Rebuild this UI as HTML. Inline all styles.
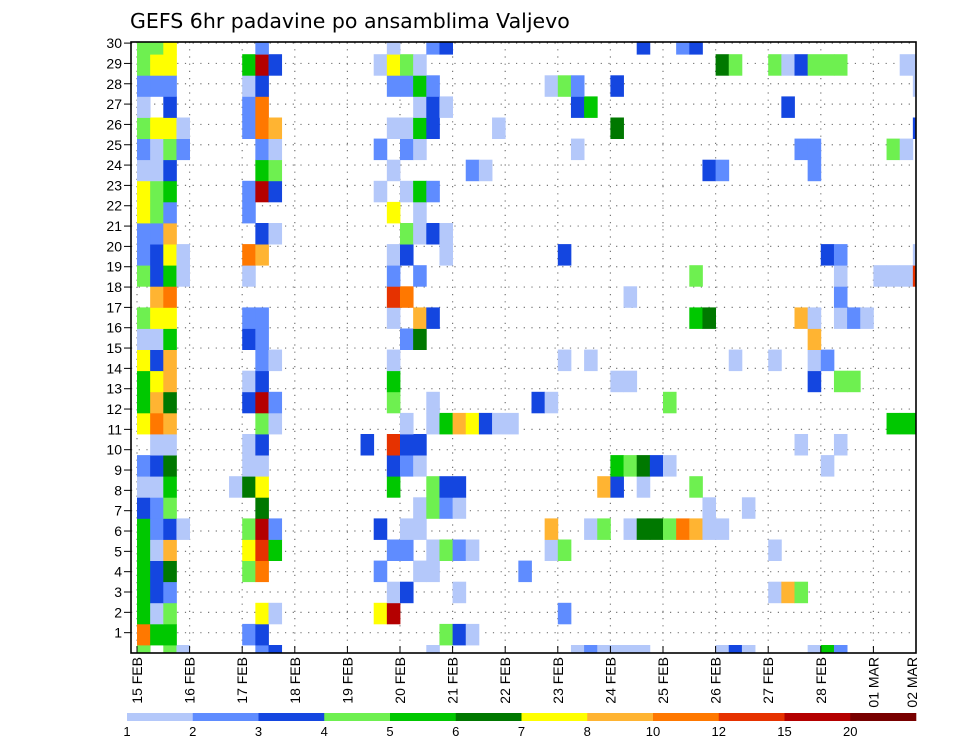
<!DOCTYPE html>
<html><head><meta charset="utf-8">
<style>
html,body{margin:0;padding:0;background:#fff;}
svg{display:block;font-family:"Liberation Sans","DejaVu Sans",sans-serif;}
</style></head>
<body>
<svg id="chart" width="960" height="742" viewBox="0 0 960 742" xmlns="http://www.w3.org/2000/svg">
<text x="130" y="28" font-size="20.5" fill="#000" style="font-family:'DejaVu Sans',sans-serif">GEFS 6hr padavine po ansamblima Valjevo</text>
<g id="grid"></g>
<g id="cells"></g>
<g id="axes"></g>
<g id="legend"></g>
</svg>
<script>
// ---- data ----
const levelColors = ["#ffffff","#b4c8fa","#5f8cff","#1446e0","#6ef050","#00c800","#007800","#ffff00","#ffb432","#ff7800","#e63200","#b40000","#780000"];
const legendLabels = ["1","2","3","4","5","6","7","8","10","12","15","20"];
const dayLabels = ["15 FEB","16 FEB","17 FEB","18 FEB","19 FEB","20 FEB","21 FEB","22 FEB","23 FEB","24 FEB","25 FEB","26 FEB","27 FEB","28 FEB","01 MAR","02 MAR"];
const memberLabels = [1,2,3,4,5,6,7,8,9,10,11,12,13,14,15,16,17,18,19,20,21,22,23,24,25,26,27,28,29,30];
// each member row: list of [6h step, colour level]
const memberRows = [
 [[0,4],[2,4],[3,1],[9,2],[10,3],[22,1],[33,1],[34,2],[35,1],[36,1],[37,1],[38,1],[44,1],[45,3],[46,1],[51,1],[52,5],[53,2]],
 [[0,9],[1,5],[2,5],[8,2],[9,3],[23,4],[24,3],[25,1]],
 [[0,5],[1,1],[2,4],[9,7],[10,1],[18,7],[19,11],[32,2]],
 [[0,5],[1,3],[2,2],[19,1],[20,3],[24,1],[48,1],[49,8],[50,4]],
 [[0,5],[1,3],[2,6],[8,4],[9,9],[18,2],[21,1],[22,1],[29,2]],
 [[0,5],[1,1],[2,8],[8,7],[9,10],[10,5],[19,2],[20,2],[22,1],[23,4],[24,2],[25,1],[31,1],[32,4],[48,1]],
 [[0,5],[1,2],[2,3],[3,1],[8,4],[9,11],[10,2],[18,3],[20,1],[21,1],[31,8],[34,1],[35,4],[37,1],[38,6],[39,6],[40,4],[41,9],[42,8],[43,1],[44,1]],
 [[0,3],[1,2],[2,4],[9,6],[21,1],[22,4],[23,2],[24,1],[43,1],[46,1]],
 [[0,1],[1,1],[2,5],[7,1],[8,6],[9,7],[19,5],[22,4],[23,3],[24,3],[35,8],[36,3],[38,1],[42,4]],
 [[0,2],[1,3],[2,6],[8,1],[9,1],[19,3],[20,2],[21,1],[36,5],[37,4],[38,6],[39,3],[40,1],[52,1]],
 [[1,1],[2,1],[8,1],[9,3],[17,3],[19,10],[20,3],[21,3],[50,1],[53,1]],
 [[0,7],[1,9],[2,8],[9,4],[10,1],[20,1],[22,1],[23,5],[24,8],[25,7],[26,3],[27,1],[28,1],[57,5],[58,5],[59,5]],
 [[0,5],[1,8],[2,6],[8,3],[9,11],[10,2],[19,4],[22,1],[30,3],[31,1],[40,4]],
 [[0,5],[1,7],[2,8],[8,1],[9,3],[19,5],[36,1],[37,1],[51,3],[53,4],[54,4]],
 [[0,7],[1,3],[2,8],[9,2],[10,1],[19,1],[32,1],[34,1],[45,1],[48,1],[51,1],[52,2]],
 [[0,1],[1,1],[2,5],[8,3],[9,2],[20,2],[21,6],[51,8]],
 [[0,4],[1,7],[2,7],[8,2],[9,2],[19,1],[21,8],[22,3],[42,5],[43,6],[50,8],[51,1],[53,1],[54,2],[55,1]],
 [[1,8],[2,9],[19,10],[20,9],[37,1],[53,2]],
 [[0,4],[1,3],[2,5],[3,1],[8,1],[19,2],[21,2],[42,4],[53,1],[56,1],[57,1],[58,1],[59,10]],
 [[0,2],[1,3],[2,7],[3,1],[8,9],[9,8],[19,1],[20,3],[23,1],[32,3],[52,3],[53,2],[59,1]],
 [[0,2],[1,2],[2,8],[9,3],[10,1],[20,4],[21,1],[22,3],[23,1]],
 [[0,7],[1,4],[2,2],[8,2],[19,7],[21,1]],
 [[0,7],[1,4],[2,5],[8,2],[9,11],[10,3],[18,1],[20,1],[21,5],[22,2]],
 [[0,1],[1,1],[2,3],[9,5],[10,4],[19,1],[25,2],[26,1],[43,3],[44,2],[51,2]],
 [[0,2],[1,1],[2,4],[3,2],[9,2],[10,1],[18,2],[20,2],[21,1],[33,1],[50,2],[51,2],[57,4],[58,1]],
 [[0,4],[1,7],[2,7],[3,1],[8,2],[9,9],[10,8],[19,1],[20,1],[21,5],[22,3],[27,1],[36,6],[59,3]],
 [[0,1],[2,3],[8,2],[9,9],[21,1],[22,3],[23,1],[33,3],[34,5],[49,3]],
 [[0,2],[1,2],[2,2],[8,1],[9,3],[19,2],[20,2],[21,5],[22,2],[31,1],[32,4],[33,2],[36,3],[59,1]],
 [[0,4],[1,7],[2,7],[8,5],[9,11],[10,3],[18,1],[19,7],[20,4],[21,1],[44,6],[45,4],[48,4],[49,1],[50,3],[51,4],[52,4],[53,4],[58,1],[59,1]],
 [[0,4],[1,4],[2,7],[9,2],[19,1],[22,2],[23,3],[38,3],[41,2],[42,3]]
];
// ---- layout ----
const NS="http://www.w3.org/2000/svg";
const L=131,R=916,T=42,B=653;
const X0=137, STEP_W=13.15;
const CELL_H=21.1, CELL_BASE=645;
function xStep(s){return X0+STEP_W*s;}
function yCellTop(m){return CELL_BASE-CELL_H*m;}
function yLabel(r){return 653-20.33*r;}
function mk(tag,attrs,parent){const e=document.createElementNS(NS,tag);for(const k in attrs)e.setAttribute(k,attrs[k]);parent.appendChild(e);return e;}
const svg=document.getElementById('chart');
const gGrid=document.getElementById('grid'),gCells=document.getElementById('cells'),gAxes=document.getElementById('axes'),gLeg=document.getElementById('legend');
const defs=mk('defs',{},svg);const cp=mk('clipPath',{id:'plotclip'},defs);mk('rect',{x:L,y:T,width:R-L,height:B-T},cp);
gCells.setAttribute('clip-path','url(#plotclip)');
memberRows.forEach((row,m)=>{
  row.forEach(([s,lv])=>{
    const r=mk('rect',{x:xStep(s).toFixed(2),y:yCellTop(m).toFixed(2),width:(STEP_W+0.4).toFixed(2),height:(CELL_H+0.4).toFixed(2),fill:levelColors[lv]},gCells);
    
    
  });
});
memberLabels.forEach(r=>{
  const y=yLabel(r);
  const ln=mk('line',{x1:L,x2:R,y1:y,y2:y,stroke:'#777','stroke-width':1.2,'stroke-dasharray':'1.2 6.5'},gGrid);
  
  
  const tk=mk('line',{x1:L-7,x2:L,y1:y,y2:y,stroke:'#000','stroke-width':1},gAxes);
  
  
  const t=mk('text',{x:L-9,y:y+5,'font-size':14,'text-anchor':'end',fill:'#000'},gAxes);
  t.textContent=r;
  
  
});
dayLabels.forEach((d,i)=>{
  const x=xStep(i*4);
  if(x<R){
    const ln=mk('line',{x1:x,x2:x,y1:T,y2:B,stroke:'#777','stroke-width':1.2,'stroke-dasharray':'1.2 6'},gGrid);
    
    
    const tk=mk('line',{x1:x,x2:x,y1:B,y2:B-7,stroke:'#000','stroke-width':1},gAxes);
    
    
  }
  const lx=Math.min(x,912)+5;
  const t=mk('text',{x:0,y:0,'font-size':14,'text-anchor':'end',fill:'#000',transform:'translate('+lx+','+(B+4)+') rotate(-90)'},gAxes);
  t.textContent=d;
  
  
});
const fr=mk('rect',{x:L,y:T,width:R-L,height:B-T,fill:'none',stroke:'#000','stroke-width':1.6},gAxes);


const LW=(916-127)/12;
legendLabels.forEach((lab,i)=>{
  const r=mk('rect',{x:127+LW*i,y:713,width:LW+0.3,height:8,fill:levelColors[i+1]},gLeg);
  
  
  const t=mk('text',{x:127+LW*i,y:736,'font-size':13,'text-anchor':'middle',fill:'#000'},gLeg);
  t.textContent=lab;
  
  
});
</script>
</body></html>
